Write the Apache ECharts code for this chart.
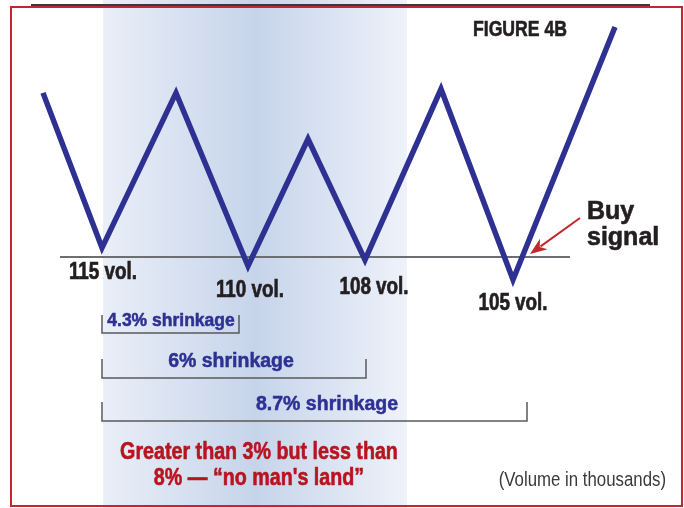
<!DOCTYPE html>
<html>
<head>
<meta charset="utf-8">
<script src="https://cdn.jsdelivr.net/npm/echarts@6/dist/echarts.min.js"></script>
<style>
  html, body { margin: 0; padding: 0; background: #fff; }
  #chart { width: 684px; height: 508px; }
</style>
</head>
<body>
<div id="chart"></div>
<script>
// schematic price path (x = time, y = price)
const weeks = [4.3, 10.2, 17.6, 24.8, 30.8, 36.5, 44.1, 51.3, 61.5];
const price = [72.8, 12.4, 72.8, 5.3, 54.8, 7.7, 74.3, 0, 98.5];
// troughs and their volume
const troughIdx = [1, 3, 5, 7];
const troughVolume = [115, 110, 108, 105];
// support line
const supportLevel = 8.8;
const supportSpan = [6.0, 57.0];
// shaded zone
const bandRange = [10.3, 40.7];
// shrinkage brackets
const shrinkLabels = ['4.3% shrinkage', '6% shrinkage', '8.7% shrinkage'];
const shrinkEnds = [23.9, 36.6, 52.7];
const noMansLand = ['Greater than 3% but less than', '8% \u2014 \u201cno man\'s land\u201d'];

const BLUE = '#2e3192';
const RED = '#c1272d';
const SANS = "'Liberation Sans', Arial, sans-serif";
const NARROW_X = 0.82; // squeeze to mimic a condensed face

// label nudges (pixels) for the volume labels
const labelOffsets = [[1, 25], [2, 25], [9, 28], [0, 24]];

const myChart = echarts.init(document.getElementById('chart'));

const pathData = weeks.map((w, i) => [w, price[i]]);

const option = {
  animation: false,
  backgroundColor: '#fff',
  grid: { left: 0, right: 0, top: 0, bottom: 0 },
  xAxis: { type: 'value', min: 0, max: 68.4, show: false },
  yAxis: { type: 'value', min: -89, max: 109, show: false },
  series: [
    {
      type: 'line',
      data: [[supportSpan[0], supportLevel], [supportSpan[1], supportLevel]],
      symbol: 'none',
      lineStyle: { color: '#6d6e71', width: 2 },
      z: 1,
      markArea: {
        silent: true,
        itemStyle: {
          color: new echarts.graphic.LinearGradient(0, 0, 1, 0, [
            { offset: 0, color: '#eaeff8' },
            { offset: 0.5, color: '#c6d4ea' },
            { offset: 1, color: '#eef2fa' }
          ])
        },
        data: [[{ xAxis: bandRange[0] }, { xAxis: bandRange[1] }]]
      }
    },
    {
      type: 'line',
      data: pathData,
      symbol: 'none',
      lineStyle: { color: BLUE, width: 5.5, join: 'miter', miterLimit: 20, cap: 'butt' },
      z: 3
    }
  ]
};
myChart.setOption(option);

// annotations
function px(x, y) { return myChart.convertToPixel({ gridIndex: 0 }, [x, y]); }
function txt(x, y, text, font, fill, align, sx, heavy) {
  const style = { text: text, font: font, fill: fill, align: align || 'center', verticalAlign: 'middle' };
  if (heavy) { style.stroke = fill; style.lineWidth = heavy; }
  return { type: 'text', x: x, y: y, scaleX: sx || 1, z: 20, style: style };
}

const g = [];
// frame
g.push({ type: 'line', z: 20, shape: { x1: 31, y1: 5, x2: 650, y2: 5 }, style: { stroke: '#3a3a3a', lineWidth: 2 } });
g.push({ type: 'rect', z: 20, shape: { x: 11, y: 7, width: 671, height: 499 }, style: { fill: null, stroke: RED, lineWidth: 2 } });

g.push(txt(520, 30, 'FIGURE 4B', 'bold 21.5px ' + SANS, '#231f20', 'center', NARROW_X, 0.6));

// volume labels under each trough
troughIdx.forEach((k, i) => {
  const p = px(weeks[k], price[k]);
  g.push(txt(p[0] + labelOffsets[i][0], p[1] + labelOffsets[i][1], troughVolume[i] + ' vol.', 'bold 23px ' + SANS, '#231f20', 'center', NARROW_X, 0.7));
});

// brackets
const bracketY = [[315, 333], [359, 378], [402, 421]];
const shrinkPos = [[171, 321], [231, 362], [327, 405]];
const shrinkSize = [17.5, 19.5, 19.5];
const x0 = px(weeks[troughIdx[0]], 0)[0];
shrinkEnds.forEach((e, i) => {
  const x1 = px(e, 0)[0];
  const [t, b] = bracketY[i];
  g.push({ type: 'polyline', z: 20, shape: { points: [[x0, t], [x0, b], [x1, b], [x1, t]] }, style: { stroke: '#58595b', lineWidth: 1.5, fill: null } });
  g.push(txt(shrinkPos[i][0], shrinkPos[i][1], shrinkLabels[i], 'bold ' + shrinkSize[i] + 'px ' + SANS, BLUE, 'center', 1, 0.5));
});

// no man's land note
noMansLand.forEach((t, i) => {
  g.push(txt(259, 452 + i * 26, t, 'bold 24px ' + SANS, '#b8141f', 'center', NARROW_X, 0.6));
});

g.push(txt(666, 480, '(Volume in thousands)', '20.5px ' + SANS, '#3a3a3a', 'right', NARROW_X));

// buy signal
g.push(txt(587, 212, 'Buy', 'bold 25px ' + SANS, '#231f20', 'left', 1, 0.6));
g.push(txt(587, 238, 'signal', 'bold 25px ' + SANS, '#231f20', 'left', 1, 0.6));

const tail = [580, 218], tip = [530, 254];
const dx = tip[0] - tail[0], dy = tip[1] - tail[1];
const len = Math.sqrt(dx * dx + dy * dy);
const ux = dx / len, uy = dy / len;
const hl = 17, hw = 6.5;
const bx = tip[0] - ux * hl, by = tip[1] - uy * hl;
g.push({ type: 'line', z: 20, shape: { x1: tail[0], y1: tail[1], x2: bx + ux * 4, y2: by + uy * 4 }, style: { stroke: RED, lineWidth: 2 } });
g.push({ type: 'polygon', z: 20, shape: { points: [tip, [bx - uy * hw, by + ux * hw], [bx + ux * 5, by + uy * 5], [bx + uy * hw, by - ux * hw]] }, style: { fill: RED } });

myChart.setOption({ graphic: g });

window.addEventListener('resize', () => {
  myChart.resize();
});
</script>
</body>
</html>
